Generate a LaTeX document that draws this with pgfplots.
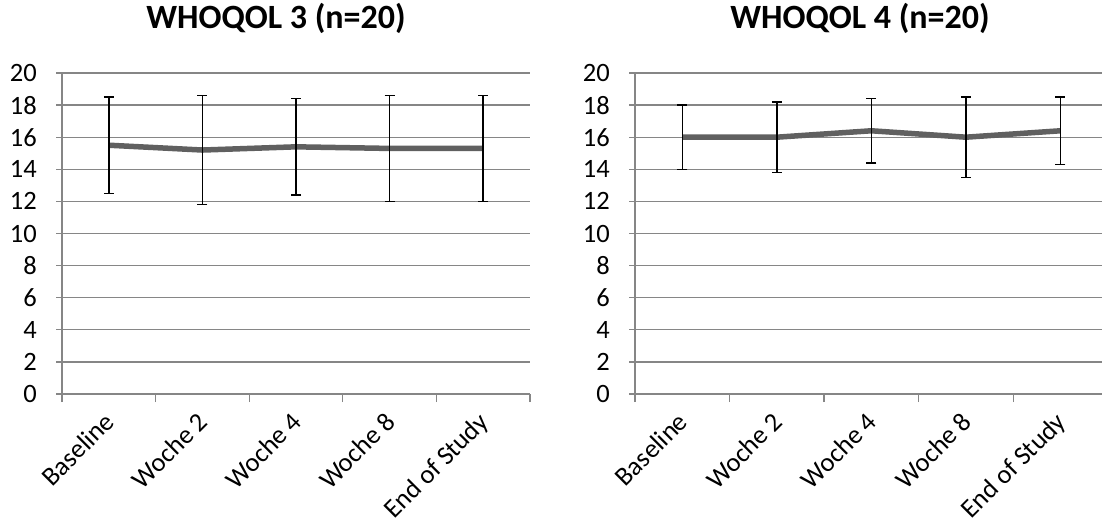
\documentclass[border=0pt]{standalone}
\usepackage{pgfplots}
\pgfplotsset{compat=1.18}
\usepackage{fontspec}
\setmainfont{Carlito}
\definecolor{gridgray}{RGB}{134,134,134}
\definecolor{linegray}{RGB}{96,96,96}
\pgfplotsset{
  whoqol/.style={
    anchor=south west,
    scale only axis,
    height=321pt,
    ymin=0, ymax=20,
    ytick={0,2,...,20},
    xmin=0,
    axis x line*=bottom, axis y line*=left,
    axis line style={gridgray, line width=1.3pt, -},
    ymajorgrids,
    major grid style={gridgray, line width=1.3pt},
    xtick={0.5,1.5,2.5,3.5,4.5},
    xticklabels={Baseline,Woche 2,Woche 4,Woche 8,End of Study},
    minor xtick={0,1,2,3,4,5},
    major x tick style={draw=none},
    minor x tick style={gridgray, line width=1.3pt},
    minor tick length=8pt,
    major tick length=6pt,
    tick align=outside,
    y tick style={gridgray, line width=1.3pt},
    /pgf/number format/assume math mode=true,
    tick label style={font=\fontsize{26.5}{30}\selectfont, black},
    yticklabel style={inner sep=2pt, xshift=-17pt},
    xticklabel style={anchor=north east, inner sep=1pt, xshift=-6pt, yshift=-9pt, rotate=45},
    clip=true,
  },
  datastyle/.style={
    linegray, line width=5.5pt, mark=none,
    error bars/.cd, y dir=both, y explicit,
    error bar style={black, line width=1.5pt},
    error mark options={rotate=90, mark size=5pt, black, line width=1.5pt},
  },
}
\pgfplotstableread{
x y e
0.5 15.5 3.0
1.5 15.2 3.4
2.5 15.4 3.0
3.5 15.3 3.3
4.5 15.3 3.3
}\tableA
\pgfplotstableread{
x y e
0.5 16.0 2.0
1.5 16.0 2.2
2.5 16.4 2.0
3.5 16.0 2.5
4.5 16.4 2.1
}\tableB
\begin{document}
\begin{tikzpicture}
\path[use as bounding box] (0,0) rectangle (1102pt,524pt);
\begin{axis}[whoqol, at={(62pt,130pt)}, width=468pt, xmax=5]
\addplot+[datastyle] table[x=x, y=y, y error=e] {\tableA};
\end{axis}
\begin{axis}[whoqol, at={(635pt,130pt)}, width=467pt, xmax=4.94]
\addplot+[datastyle] table[x=x, y=y, y error=e] {\tableB};
\end{axis}
\node[anchor=base, font=\fontsize{34}{37}\selectfont\bfseries] at (276pt,495pt) {WHOQOL 3 (n=20)};
\node[anchor=base, font=\fontsize{34}{37}\selectfont\bfseries] at (860pt,495pt) {WHOQOL 4 (n=20)};
\end{tikzpicture}
\end{document}
